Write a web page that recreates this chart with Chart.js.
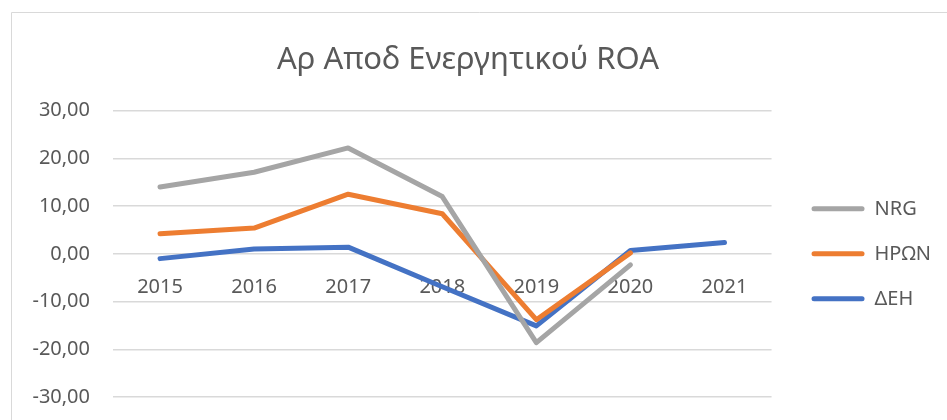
<!DOCTYPE html>
<html>
<head>
<meta charset="utf-8">
<script src="https://cdn.jsdelivr.net/npm/chart.js@4"></script>
<style>
  html, body { margin: 0; padding: 0; background: #fff; }
  #wrap { width: 947px; height: 420px; position: relative; }
</style>
</head>
<body>
<div id="wrap"><canvas id="roaChart"></canvas></div>
<script>
const years = ["2015", "2016", "2017", "2018", "2019", "2020", "2021"];
const nrg = [14.0, 17.1, 22.2, 12.0, -18.6, -2.3, null];
const heron = [4.2, 5.4, 12.5, 8.4, -13.8, 0.2, null];
const dei = [-1.0, 1.0, 1.4, -6.9, -15.1, 0.7, 2.4];
const yTicks = [-30, -20, -10, 0, 10, 20, 30];

const textColor = "#595959";
const fontFamily = "'Noto Sans', 'Open Sans', sans-serif";

// thin grey frame like the Excel chart border (cropped at right/bottom)
const frame = {
  id: "frame",
  beforeDraw(chart) {
    const ctx = chart.ctx;
    ctx.save();
    ctx.strokeStyle = "#d9d9d9";
    ctx.lineWidth = 1;
    ctx.beginPath();
    ctx.moveTo(11.5, 420);
    ctx.lineTo(11.5, 12.5);
    ctx.lineTo(947, 12.5);
    ctx.stroke();
    ctx.restore();
  },
};

// legend sits a bit right of the plot and is centred on it vertically,
// title is centred on the whole frame
const tweakLayout = {
  id: "tweakLayout",
  afterLayout(chart) {
    const lg = chart.legend;
    const area = chart.chartArea;
    lg.left += 15;
    lg.right += 15;
    lg.top = area.top;
    lg.bottom = area.bottom;
    lg.height = area.bottom - area.top;
    chart.titleBlock.left += 5;
    chart.titleBlock.right += 5;
  },
};

const line = (label, data, color) => ({
  label,
  data,
  borderColor: color,
  backgroundColor: color,
  borderWidth: 5,
  borderJoinStyle: "round",
  borderCapStyle: "round",
  pointRadius: 0,
  tension: 0,
});

new Chart(document.getElementById("roaChart"), {
  type: "line",
  data: {
    labels: years,
    datasets: [
      line("NRG", nrg, "#a5a5a5"),
      line("HPΩN", heron, "#ed7d31"),
      line("ΔΕΗ", dei, "#4472c4"),
    ],
  },
  plugins: [frame, tweakLayout],
  options: {
    responsive: true,
    maintainAspectRatio: false,
    animation: false,
    layout: { padding: { left: 0, right: 21, top: 0, bottom: 23 } },
    plugins: {
      title: {
        display: true,
        text: "Αρ Αποδ Ενεργητικού ROA",
        color: textColor,
        font: { family: fontFamily, size: 31, weight: "normal" },
        padding: { top: 42, bottom: 31.5 },
      },
      legend: {
        position: "right",
        labels: {
          color: textColor,
          font: { family: fontFamily, size: 20 },
          boxWidth: 53,
          boxHeight: 5,
          padding: 25,
          useBorderRadius: true,
          borderRadius: 2.5,
          generateLabels(chart) {
            return chart.data.datasets.map((ds, i) => ({
              text: ds.label,
              fillStyle: ds.borderColor,
              strokeStyle: ds.borderColor,
              lineWidth: 0,
              borderRadius: 2.5,
              fontColor: textColor,
              datasetIndex: i,
            }));
          },
        },
      },
      tooltip: { enabled: false },
    },
    scales: {
      x: {
        position: { y: 0 },
        offset: true,
        afterFit(scale) {
          scale.height = 0;
          scale.paddingTop = 0;
          scale.paddingBottom = 0;
        },
        grid: { display: false },
        border: { display: false },
        ticks: {
          color: textColor,
          font: { family: fontFamily, size: 20 },
          padding: 13,
          maxRotation: 0,
        },
      },
      y: {
        min: -30,
        max: 30,
        afterFit(scale) {
          scale.width = 113;
          scale.paddingTop = 0;
          scale.paddingBottom = 0;
        },
        afterBuildTicks(scale) { scale.ticks = yTicks.map((v) => ({ value: v })); },
        grid: { color: "#d9d9d9", lineWidth: 1.5, drawTicks: false },
        border: { display: false },
        ticks: {
          color: textColor,
          font: { family: fontFamily, size: 20 },
          padding: 23,
          callback: (v) => v.toFixed(2).replace(".", ","),
        },
      },
    },
  },
});
</script>
</body>
</html>
